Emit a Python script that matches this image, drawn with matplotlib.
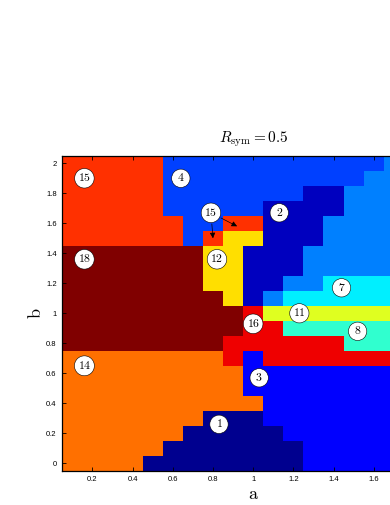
import numpy as np
import matplotlib
matplotlib.use('Agg')
import matplotlib.pyplot as plt
from matplotlib.colors import ListedColormap, Normalize

plt.rcParams['mathtext.fontset'] = 'cm'
plt.rcParams['font.family'] = 'Liberation Sans'

# grid of parameter values (cell centres)
a_vals = np.round(np.arange(1, 20) * 0.1, 2)   # 0.1 .. 1.9
b_vals = np.round(np.arange(0, 21) * 0.1, 2)   # 0.0 .. 2.0

# region id per cell, one row per b value (b = 0.0 first), columns a = 0.1 .. 1.9
regions = [
    [14, 14, 14, 14, 1, 1, 1, 1, 1, 1, 1, 1, 3, 3, 3, 3, 3, 3, 3],          # b=0.0
    [14, 14, 14, 14, 14, 1, 1, 1, 1, 1, 1, 1, 3, 3, 3, 3, 3, 3, 3],         # b=0.1
    [14, 14, 14, 14, 14, 14, 1, 1, 1, 1, 1, 3, 3, 3, 3, 3, 3, 3, 3],        # b=0.2
    [14, 14, 14, 14, 14, 14, 14, 1, 1, 1, 3, 3, 3, 3, 3, 3, 3, 3, 3],       # b=0.3
    [14, 14, 14, 14, 14, 14, 14, 14, 14, 14, 3, 3, 3, 3, 3, 3, 3, 3, 3],    # b=0.4
    [14, 14, 14, 14, 14, 14, 14, 14, 14, 3, 3, 3, 3, 3, 3, 3, 3, 3, 3],     # b=0.5
    [14, 14, 14, 14, 14, 14, 14, 14, 14, 3, 3, 3, 3, 3, 3, 3, 3, 3, 3],     # b=0.6
    [14, 14, 14, 14, 14, 14, 14, 14, 16, 3, 16, 16, 16, 16, 16, 16, 16, 16, 16],  # b=0.7
    [18, 18, 18, 18, 18, 18, 18, 18, 16, 16, 16, 16, 16, 16, 8, 8, 8, 8, 8],      # b=0.8
    [18, 18, 18, 18, 18, 18, 18, 18, 18, 16, 16, 8, 8, 8, 8, 8, 8, 8, 8],         # b=0.9
    [18, 18, 18, 18, 18, 18, 18, 18, 18, 16, 11, 11, 11, 11, 11, 11, 11, 11, 11], # b=1.0
    [18, 18, 18, 18, 18, 18, 18, 18, 12, 2, 5, 7, 7, 7, 7, 7, 7, 7, 7],           # b=1.1
    [18, 18, 18, 18, 18, 18, 18, 12, 12, 2, 2, 5, 5, 7, 7, 7, 7, 7, 7],           # b=1.2
    [18, 18, 18, 18, 18, 18, 18, 12, 12, 2, 2, 2, 5, 5, 5, 5, 5, 5, 5],           # b=1.3
    [18, 18, 18, 18, 18, 18, 18, 12, 12, 2, 2, 2, 5, 5, 5, 5, 5, 5, 5],           # b=1.4
    [15, 15, 15, 15, 15, 15, 4, 15, 12, 12, 2, 2, 2, 5, 5, 5, 5, 5, 5],           # b=1.5
    [15, 15, 15, 15, 15, 15, 4, 4, 15, 15, 2, 2, 2, 5, 5, 5, 5, 5, 5],            # b=1.6
    [15, 15, 15, 15, 15, 4, 4, 4, 4, 4, 2, 2, 2, 2, 5, 5, 5, 5, 5],               # b=1.7
    [15, 15, 15, 15, 15, 4, 4, 4, 4, 4, 4, 4, 2, 2, 5, 5, 5, 5, 5],               # b=1.8
    [15, 15, 15, 15, 15, 4, 4, 4, 4, 4, 4, 4, 4, 4, 4, 5, 5, 5, 5],               # b=1.9
    [15, 15, 15, 15, 15, 4, 4, 4, 4, 4, 4, 4, 4, 4, 4, 4, 5, 5, 5],               # b=2.0
]

# label circles
label_ids = [15, 4, 15, 2, 18, 12, 7, 11, 16, 8, 14, 3, 1]
label_a = [0.16, 0.64, 0.79, 1.13, 0.16, 0.82, 1.44, 1.23, 1.0, 1.52, 0.16, 1.03, 0.83]
label_b = [1.9, 1.9, 1.67, 1.67, 1.36, 1.36, 1.17, 1.0, 0.93, 0.88, 0.65, 0.57, 0.26]

# arrows from the second "15" label to its small patches
arrow_from = (0.79, 1.67)
arrow_to_a = [0.80, 0.92]
arrow_to_b = [1.50, 1.58]

x_ticks = [0.2, 0.4, 0.6, 0.8, 1, 1.2, 1.4, 1.6]
x_ticklabels = ['0.2', '0.4', '0.6', '0.8', '1', '1.2', '1.4', '1.6']
y_ticks = [0, 0.2, 0.4, 0.6, 0.8, 1, 1.2, 1.4, 1.6, 1.8, 2]
y_ticklabels = ['0', '0.2', '0.4', '0.6', '0.8', '1', '1.2', '1.4', '1.6', '1.8', '2']


def matlab_jet(m=64):
    n = int(np.ceil(m / 4))
    u = np.concatenate([np.arange(1, n + 1) / n, np.ones(n - 1), np.arange(n, 0, -1) / n])
    g = int(np.ceil(n / 2)) - (1 if m % 4 == 1 else 0) + np.arange(1, len(u) + 1)
    r = g + n
    b = g - n
    cols = np.zeros((m, 3))
    for idx, ch in zip([r, g, b], range(3)):
        ok = (idx >= 1) & (idx <= m)
        cols[idx[ok] - 1, ch] = u[ok]
    return ListedColormap(cols)


a_edges = np.append(a_vals - 0.05, a_vals[-1] + 0.05)
b_edges = np.append(b_vals - 0.05, b_vals[-1] + 0.05)

fig = plt.figure(figsize=(3.9, 5.05), dpi=100)
ax = fig.add_axes([62.3 / 390, 34.2 / 505, 381.7 / 390, 315 / 505])

ax.pcolormesh(a_edges, b_edges, np.array(regions), cmap=matlab_jet(64),
              norm=Normalize(vmin=1, vmax=18), shading='flat')

for aa, bb in zip(arrow_to_a, arrow_to_b):
    ax.annotate('', xy=(aa, bb), xytext=arrow_from,
                arrowprops=dict(arrowstyle='-|>', color='black', lw=0.5,
                                mutation_scale=8, shrinkA=8, shrinkB=0))

for lid, la, lb in zip(label_ids, label_a, label_b):
    ax.text(la, lb, '$%d$' % lid, fontsize=8.5, ha='center', va='center',
            bbox=dict(boxstyle='circle,pad=0.27', fc='white', ec='black', lw=0.4))

ax.set_xlim(a_edges[0], a_edges[-1])
ax.set_ylim(b_edges[0], b_edges[-1])
ax.set_xticks(x_ticks)
ax.set_xticklabels(x_ticklabels)
ax.set_yticks(y_ticks)
ax.set_yticklabels(y_ticklabels)
ax.tick_params(direction='in', top=True, right=True, labelsize=5.5, length=3, width=0.6, pad=4)
for sp in ax.spines.values():
    sp.set_linewidth(0.9)

ax.set_xlabel(r'$\mathrm{a}$', fontsize=13, labelpad=2)
ax.set_ylabel(r'$\mathrm{b}$', fontsize=13, labelpad=1)
ax.text(0.5, 1.054, r'$R_{\mathrm{sym}}=0.5$', transform=ax.transAxes,
        ha='center', va='center', fontsize=11)

fig.savefig('out.png', dpi=100)
